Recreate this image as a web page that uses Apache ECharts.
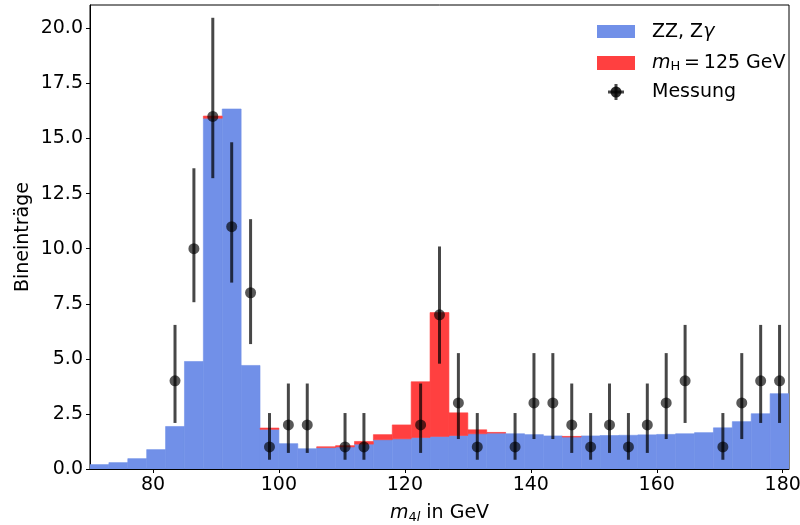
<!DOCTYPE html>
<html>
<head>
<meta charset="utf-8">
<script src="https://cdn.jsdelivr.net/npm/echarts@6/dist/echarts.min.js"></script>
<style>html,body{margin:0;padding:0;background:#fff}#c{width:800px;height:525px}</style>
</head>
<body>
<div id="c"></div>
<script>
// Bin edges (GeV)
const binEdges = [70,73,76,79,82,85,88,91,94,97,100,103,106,109,112,115,118,121,124,127,130,133,136,139,142,145,148,151,154,157,160,163,166,169,172,175,178,181];
// ZZ, Zγ background per bin
const bgCounts = [0.2,0.29,0.47,0.88,1.93,4.88,15.92,16.34,4.7,1.8,1.15,0.92,0.97,1.0,1.13,1.33,1.37,1.43,1.48,1.52,1.6,1.63,1.6,1.56,1.5,1.45,1.5,1.52,1.53,1.55,1.57,1.6,1.65,1.87,2.15,2.51,3.42];
// Higgs signal (m_H = 125 GeV) per bin, stacked on background
const sigCounts = [0,0,0,0,0,0,0.1,0,0,0.06,0,0,0.04,0.06,0.12,0.23,0.63,2.53,5.62,1.03,0.18,0.03,0,0,0,0.03,0,0,0,0,0,0,0,0,0,0,0];
// Measurement (bin centres, counts, error bar limits)
const dataX = [83.5,86.5,89.5,92.5,95.5,98.5,101.5,104.5,110.5,113.5,122.5,125.5,128.5,131.5,137.5,140.5,143.5,146.5,149.5,152.5,155.5,158.5,161.5,164.5,170.5,173.5,176.5,179.5];
const dataY = [4,10,16,11,8,1,2,2,1,1,2,7,3,1,1,3,3,2,1,2,1,2,3,4,1,3,4,4];
const errLow = [2.09,7.57,13.2,8.46,5.67,0.42,0.73,0.73,0.42,0.42,0.73,4.78,1.36,0.42,0.42,1.36,1.36,0.73,0.42,0.73,0.42,0.73,1.36,2.09,0.42,1.36,2.09,2.09];
const errHigh = [6.54,13.65,20.48,14.83,11.34,2.54,3.88,3.88,2.54,2.54,3.88,10.1,5.26,2.54,2.54,5.26,5.26,3.88,2.54,3.88,2.54,3.88,5.26,6.54,2.54,5.26,6.54,6.54];
// Tick labels
const xTicks = [80,100,120,140,160,180];
const yTicks = [0,2.5,5,7.5,10,12.5,15,17.5,20];

const BLUE = '#7190E8', RED = '#FF4040';
const FONT = 'DejaVu Sans';

const bgData = bgCounts.map((v,i)=>[binEdges[i], binEdges[i+1], 0, v]);
const sigData = sigCounts.map((v,i)=>[binEdges[i], binEdges[i+1], bgCounts[i], bgCounts[i]+v]).filter(d=>d[3]>d[2]);
const errData = dataX.map((x,i)=>[x, errLow[i], errHigh[i]]);
const ptData = dataX.map((x,i)=>[x, dataY[i]]);

function rectRenderer(color){
  return function(params, api){
    const p0 = api.coord([api.value(0), api.value(2)]);
    const p1 = api.coord([api.value(1), api.value(3)]);
    return {type:'rect', shape:{x:p0[0], y:p1[1], width:p1[0]-p0[0], height:p0[1]-p1[1]},
      style:{fill:color, stroke:color, lineWidth:0.6}};
  };
}

const chart = echarts.init(document.getElementById('c'), null, {renderer:'canvas'});
chart.setOption({
  animation:false,
  backgroundColor:'#fff',
  grid:{left:90, right:11, top:5, bottom:56, show:true, borderColor:'#000', borderWidth:1, backgroundColor:'transparent',
    containLabel:false, outerBoundsMode:'none'},
  xAxis:{type:'value', min:70, max:181,
    axisLine:{show:true, lineStyle:{color:'#000', width:1}},
    axisTick:{show:true, customValues:xTicks, length:4, lineStyle:{color:'#000'}},
    axisLabel:{customValues:xTicks, color:'#000', fontSize:19, fontFamily:FONT, margin:7},
    splitLine:{show:false},
    name:'{i|m}{s|4}{si|l}{n| in GeV}', nameLocation:'middle', nameGap:34, nameMoveOverlap:false,
    nameTextStyle:{color:'#000', fontSize:19, fontFamily:FONT, rich:{
      i:{fontStyle:'italic', fontSize:19, fontFamily:FONT, color:'#000'},
      s:{fontSize:13, fontFamily:FONT, color:'#000', padding:[8,0,0,0]},
      si:{fontSize:13, fontStyle:'italic', fontFamily:FONT, color:'#000', padding:[8,0,0,0]},
      n:{fontSize:19, fontFamily:FONT, color:'#000'}}}
  },
  yAxis:{type:'value', min:0, max:21.06,
    axisLine:{show:true, lineStyle:{color:'#000', width:1}},
    axisTick:{show:true, customValues:yTicks, length:4, lineStyle:{color:'#000'}},
    axisLabel:{customValues:yTicks, color:'#000', fontSize:19, fontFamily:FONT, margin:7, formatter:v=>v.toFixed(1)},
    splitLine:{show:false},
    name:'Bineinträge', nameLocation:'middle', nameGap:57, nameRotate:90, nameMoveOverlap:false,
    nameTextStyle:{color:'#000', fontSize:19, fontFamily:FONT}
  },
  series:[
    {type:'custom', name:'ZZ, Zγ', data:bgData, renderItem:rectRenderer(BLUE), z:1, clip:true},
    {type:'custom', name:'m_H = 125 GeV', data:sigData, renderItem:rectRenderer(RED), z:1, clip:true},
    {type:'custom', name:'err', data:errData, z:3, clip:true, renderItem:function(params, api){
      const a = api.coord([api.value(0), api.value(1)]);
      const b = api.coord([api.value(0), api.value(2)]);
      return {type:'line', shape:{x1:a[0], y1:a[1], x2:b[0], y2:b[1]}, style:{stroke:'rgba(0,0,0,0.72)', lineWidth:3}};
    }},
    {type:'scatter', name:'Messung', data:ptData, symbol:'circle', symbolSize:11, z:4,
      itemStyle:{color:'rgba(0,0,0,0.82)'}}
  ],
  graphic:[
    {type:'rect', shape:{x:597, y:25, width:38, height:13}, style:{fill:BLUE}},
    {type:'text', style:{x:652, y:32, text:'{n|ZZ, Z}{g|γ}', textVerticalAlign:'middle',
      rich:{n:{fontSize:19, fontFamily:FONT, fill:'#000'}, g:{fontSize:19, fontStyle:'italic', fontFamily:FONT, fill:'#000'}}}},
    {type:'rect', shape:{x:597, y:56, width:38, height:14}, style:{fill:RED}},
    {type:'text', style:{x:652, y:63, text:'{i|m}{s|H}{n|\u2009=\u2009125 GeV}', textVerticalAlign:'middle',
      rich:{i:{fontSize:19, fontStyle:'italic', fontFamily:FONT, fill:'#000'},
            s:{fontSize:13, fontFamily:FONT, fill:'#000', padding:[8,0,0,0]},
            n:{fontSize:19, fontFamily:FONT, fill:'#000'}}}},
    {type:'line', shape:{x1:616, y1:84, x2:616, y2:100}, style:{stroke:'rgba(0,0,0,0.72)', lineWidth:3}},
    {type:'line', shape:{x1:608, y1:92, x2:624, y2:92}, style:{stroke:'rgba(0,0,0,0.72)', lineWidth:3}},
    {type:'circle', shape:{cx:616, cy:92, r:5.5}, style:{fill:'rgba(0,0,0,0.82)'}},
    {type:'text', style:{x:652, y:92, text:'Messung', textVerticalAlign:'middle', fontSize:19, fontFamily:FONT, fill:'#000'}}
  ]
});
</script>
</body>
</html>
